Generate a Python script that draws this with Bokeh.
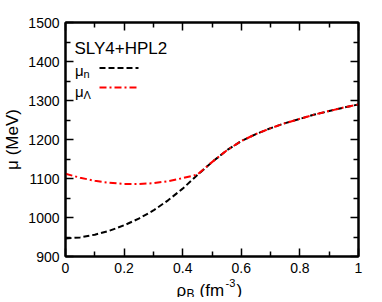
import math
from bokeh.plotting import figure
from bokeh.models import LinearAxis, FixedTicker, Label, CustomJSTickFormatter, Range1d
from bokeh.embed import file_html
from bokeh.resources import INLINE

# ---- data ----
rho_B = [0.0, 0.05, 0.1, 0.15, 0.2, 0.25, 0.3, 0.35, 0.4, 0.45, 0.5, 0.55,
         0.6, 0.65, 0.7, 0.75, 0.8, 0.85, 0.9, 0.95, 1.0]
mu_n = [946, 949, 956, 966, 980, 997, 1018, 1044, 1074, 1109, 1142, 1172,
        1196, 1214, 1229, 1242, 1253, 1264, 1273, 1282, 1290]
mu_lambda = [1112, 1102, 1094, 1089, 1086, 1086, 1088, 1093, 1101, 1110, 1142, 1172,
             1196, 1214, 1229, 1242, 1253, 1264, 1273, 1282, 1290]

x_ticks = [0, 0.2, 0.4, 0.6, 0.8, 1]
x_minor = [0.1, 0.3, 0.5, 0.7, 0.9]
y_ticks = [900, 1000, 1100, 1200, 1300, 1400, 1500]
y_minor = [950, 1050, 1150, 1250, 1350, 1450]

title_text = "SLY4+HPL2"
y_title = "μ (MeV)"
FONT = "Liberation Sans"

X0, X1 = 0.0, 1.0
Y0, Y1 = 900.0, 1500.0
FW, FH = 293, 234
LEFT, TOP, RIGHT = 64, 22, 25
MAIN_H = 279
W = LEFT + FW + RIGHT

p = figure(frame_width=FW, frame_height=FH,
           x_range=Range1d(X0, X1), y_range=Range1d(Y0, Y1),
           output_backend="svg", toolbar_location=None,
           min_border_left=LEFT, min_border_right=RIGHT,
           min_border_top=TOP, min_border_bottom=MAIN_H - TOP - FH)
p.xgrid.visible = False
p.ygrid.visible = False
p.outline_line_color = "black"
p.outline_line_width = 2
p.background_fill_color = "white"
p.border_fill_color = "white"

fmt = CustomJSTickFormatter(code="return String(Math.round(tick*10)/10);")


def style_axis(ax, ticks, minor, labels=True):
    ax.ticker = FixedTicker(ticks=ticks, minor_ticks=minor)
    ax.axis_line_width = 2
    ax.axis_line_color = "black"
    ax.major_tick_in = 8
    ax.major_tick_out = 0
    ax.minor_tick_in = 5
    ax.minor_tick_out = 0
    ax.major_tick_line_width = 1.5
    ax.minor_tick_line_width = 1.5
    ax.major_tick_line_color = "black"
    ax.minor_tick_line_color = "black"
    ax.major_label_text_font = FONT
    ax.major_label_text_font_size = "14px"
    ax.major_label_text_color = "black"
    if not labels:
        ax.major_label_text_font_size = "0px"
        ax.major_label_text_alpha = 0
        ax.major_label_standoff = 0


style_axis(p.xaxis[0], x_ticks, x_minor)
p.xaxis[0].formatter = fmt
p.xaxis[0].major_label_standoff = 6
style_axis(p.yaxis[0], y_ticks, y_minor)
p.yaxis[0].major_label_standoff = 6
p.yaxis[0].axis_label = y_title
p.yaxis[0].axis_label_text_font = FONT
p.yaxis[0].axis_label_text_font_size = "17px"
p.yaxis[0].axis_label_text_font_style = "normal"
p.yaxis[0].axis_label_text_color = "black"
p.yaxis[0].axis_label_standoff = 3

top = LinearAxis()
style_axis(top, x_ticks, x_minor, labels=False)
p.add_layout(top, "above")
right = LinearAxis()
style_axis(right, y_ticks, y_minor, labels=False)
p.add_layout(right, "right")

# ---- curves ----
p.line(rho_B, mu_n, line_color="black", line_width=2, line_dash="6 3")
p.line(rho_B, mu_lambda, line_color="red", line_width=2, line_dash="7 3 2 3")


# helpers: page pixel -> data coords of main frame
def dx(px):
    return X0 + (px - LEFT) * (X1 - X0) / FW


def dy(py):
    return Y1 - (py - TOP) * (Y1 - Y0) / FH


def lab(fig, x, y, text, size, **kw):
    fig.add_layout(Label(x=x, y=y, text=text, text_font=FONT,
                         text_font_size=size, text_color="black",
                         text_baseline="alphabetic", **kw))


lab(p, dx(73), dy(47.5), title_text, "17px")
lab(p, dx(73.5), dy(70), "μ", "15px")
lab(p, dx(82), dy(73), "n", "11px")
lab(p, dx(73.5), dy(91), "μ", "15px")
lab(p, dx(82), dy(94), "Λ", "11px")

# legend samples
p.line([dx(98), dx(137)], [dy(67.5), dy(67.5)],
       line_color="black", line_width=2, line_dash="6 3")
p.line([dx(98), dx(137)], [dy(87), dy(87)],
       line_color="red", line_width=2, line_dash="7 3 2 3")

# ---- x axis title strip (own small transparent figure; coords = pixels from its top-left) ----
SHIFT = 10
Q_TOP = 283.0 - SHIFT          # where the strip lands on the page
QH = 28
q = figure(width=W, height=QH, x_range=Range1d(0, W), y_range=Range1d(QH, 0),
           output_backend="svg", toolbar_location=None, title=None,
           x_axis_type=None, y_axis_type=None,
           min_border_left=0, min_border_right=0, min_border_top=0, min_border_bottom=0)
q.styles = {"margin-top": f"-{SHIFT}px"}
q.outline_line_color = None
q.xgrid.visible = False
q.ygrid.visible = False
q.background_fill_alpha = 0
q.border_fill_alpha = 0


def qlab(px, py, text, size):
    lab(q, px, py - Q_TOP, text, size)


qlab(176, 294, "ρ", "17px")
qlab(186, 297, "B", "12px")
qlab(199, 294, "(fm", "17px")
qlab(225, 286, "-3", "11px")
qlab(236, 294, ")", "17px")

open("out.html", "w").write(file_html([p, q], INLINE))
